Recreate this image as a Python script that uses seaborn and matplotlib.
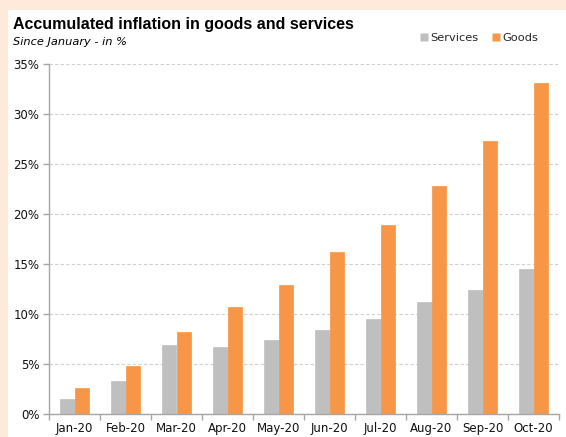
import matplotlib
matplotlib.use("Agg")
import matplotlib.pyplot as plt
from matplotlib.patches import Rectangle
from matplotlib.lines import Line2D
from matplotlib.ticker import FuncFormatter, FixedLocator
import seaborn as sns
import pandas as pd

months = ["Jan-20", "Feb-20", "Mar-20", "Apr-20", "May-20",
          "Jun-20", "Jul-20", "Aug-20", "Sep-20", "Oct-20"]
services = [1.5, 3.3, 6.9, 6.7, 7.4, 8.4, 9.5, 11.2, 12.4, 14.5]
goods = [2.6, 4.8, 8.2, 10.7, 12.9, 16.2, 18.9, 22.8, 27.3, 33.1]
series_names = ["Services", "Goods"]
colors = {"Services": "#BFBFBF", "Goods": "#F79646"}

df = pd.DataFrame({
    "month": months * 2,
    "value": services + goods,
    "series": ["Services"] * len(months) + ["Goods"] * len(months),
})

sns.set_theme(style="white")
plt.rcParams["font.family"] = ["DejaVu Sans"]

W, H = 566, 437
fig = plt.figure(figsize=(W / 100, H / 100), dpi=100)
fig.patch.set_facecolor("#FDEADA")
fig.add_artist(Rectangle((8 / W, 0), 1 - 8 / W, 1 - 10 / H,
                         transform=fig.transFigure, facecolor="white",
                         edgecolor="none", zorder=-1))

ax = fig.add_axes([49 / W, (H - 414) / H, (559 - 49) / W, (414 - 64) / H])
ax.set_facecolor("none")

sns.barplot(data=df, x="month", y="value", hue="series", order=months,
            hue_order=series_names, palette=colors, width=0.56, gap=0,
            dodge=True, saturation=1, ax=ax, legend=False)

# close hairline gaps between adjacent bars
for p in ax.patches:
    p.set_edgecolor(p.get_facecolor())
    p.set_linewidth(0.5)

ax.set_xlim(-0.5, len(months) - 0.5)
ax.set_ylim(0, 35)
ax.set_yticks(range(0, 36, 5))
ax.yaxis.set_major_formatter(FuncFormatter(lambda v, _: f"{v:.0f}%"))
ax.set_xlabel("")
ax.set_ylabel("")

ax.grid(axis="y", color="#D0D0D0", linestyle=(0, (3, 2)), linewidth=0.8)
ax.set_axisbelow(True)

for s in ["top", "right"]:
    ax.spines[s].set_visible(False)
for s in ["left", "bottom"]:
    ax.spines[s].set_color("#A6A6A6")
    ax.spines[s].set_linewidth(1.0)

ax.xaxis.set_minor_locator(FixedLocator([i - 0.5 for i in range(len(months) + 1)]))
ax.tick_params(axis="x", which="major", length=0, pad=6, labelsize=8.5,
               labelcolor="#111111")
ax.tick_params(axis="x", which="minor", length=4, width=1.0, color="#A6A6A6",
               direction="out", bottom=True)
ax.tick_params(axis="y", which="major", length=4, width=1.0, color="#A6A6A6",
               direction="out", left=True, pad=3, labelsize=8.5,
               labelcolor="#111111")

fig.text(13 / W, 1 - 29 / H, "Accumulated inflation in goods and services",
         fontsize=11.5, fontweight="bold", color="black", ha="left",
         va="baseline", family=["Liberation Sans", "DejaVu Sans"])
fig.text(13 / W, 1 - 45 / H, "Since January - in %", fontsize=8.2,
         fontstyle="italic", color="black", ha="left", va="baseline")

handles = [Line2D([], [], marker="s", linestyle="none", markersize=6,
                  markerfacecolor=colors[n], markeredgecolor="none")
           for n in series_names]
fig.legend(handles, series_names, loc="center right",
           bbox_to_anchor=(538 / W, 1 - 38 / H), ncol=2, frameon=False,
           fontsize=8.2, handletextpad=0.1, columnspacing=1.2,
           handlelength=0.8, borderaxespad=0, borderpad=0)

fig.savefig("out.png", dpi=100)
